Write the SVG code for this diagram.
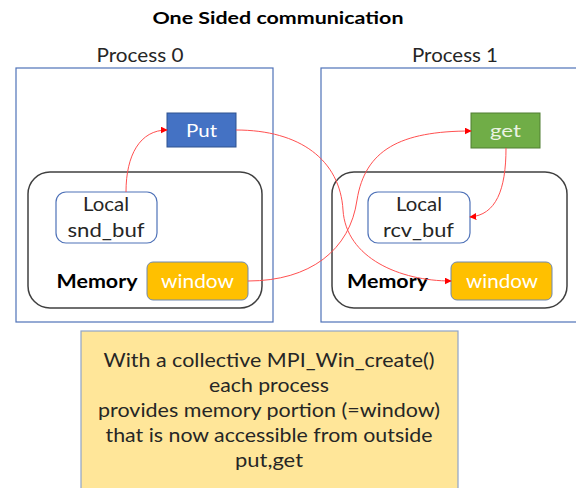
<svg xmlns="http://www.w3.org/2000/svg" width="576" height="488" viewBox="0 0 576 488">
<defs>
<marker id="ah" viewBox="0 0 10 10" refX="9" refY="5" markerWidth="7" markerHeight="7" markerUnits="userSpaceOnUse" orient="auto">
<path d="M0,0 L10,5 L0,10 z" fill="#FF0000"/>
</marker>
<style>
text{font-family:Lato,"Open Sans","Liberation Sans",sans-serif;text-anchor:middle}
.proc{fill:#fff;stroke:#4F72B8;stroke-width:1.2}
.mem{fill:#fff;stroke:#404040;stroke-width:1.5}
.loc{fill:#fff;stroke:#4F72B8;stroke-width:1.2}
.win{fill:#FFC000;stroke:#6F88B0;stroke-width:1}
.lbl{font-size:19px;fill:#262626}
.w{font-size:19px;fill:#fff}
.b{font-size:18px;font-weight:bold;fill:#000}
.conn{fill:none;stroke:#FF5050;stroke-width:1;marker-end:url(#ah)}
</style>
</defs>
<rect width="576" height="488" fill="#fff"/>
<text x="278" y="24" style="font-size:17.5px;font-weight:bold;fill:#000" textLength="251" lengthAdjust="spacingAndGlyphs">One Sided communication</text>
<g id="process0">
<text x="140" y="62" class="lbl" textLength="87" lengthAdjust="spacingAndGlyphs">Process 0</text>
<rect class="proc" x="16" y="68" width="257" height="254"/>
</g>
<g id="process1">
<text x="455" y="62" class="lbl" textLength="86" lengthAdjust="spacingAndGlyphs">Process 1</text>
<rect class="proc" x="321" y="68" width="260" height="254"/>
</g>
<g id="memory0">
<rect class="mem" x="28" y="172" width="234" height="136" rx="22"/>
<text x="97" y="288" class="b" textLength="81" lengthAdjust="spacingAndGlyphs">Memory</text>
</g>
<g id="memory1">
<rect class="mem" x="332" y="172" width="235" height="136" rx="22"/>
<text x="387.5" y="288" class="b" textLength="81" lengthAdjust="spacingAndGlyphs">Memory</text>
</g>
<g id="put">
<rect x="167" y="113" width="69" height="34" fill="#4472C4" stroke="#2F528F" stroke-width="1"/>
<text x="201.5" y="137" class="w" style="font-size:18px" textLength="31" lengthAdjust="spacingAndGlyphs">Put</text>
</g>
<g id="get">
<rect x="471" y="113" width="69" height="35" fill="#70AD47" stroke="#507E32" stroke-width="1"/>
<text x="505.5" y="137" class="w" style="font-size:18px;fill:#EAF3E2" textLength="31" lengthAdjust="spacingAndGlyphs">get</text>
</g>
<g id="snd_buf">
<rect class="loc" x="56" y="192" width="101" height="51" rx="10"/>
<text x="106" y="211" class="lbl" textLength="46" lengthAdjust="spacingAndGlyphs">Local</text>
<text x="106" y="237" class="lbl" textLength="77" lengthAdjust="spacingAndGlyphs">snd_buf</text>
</g>
<g id="rcv_buf">
<rect class="loc" x="368" y="192" width="102" height="51" rx="10"/>
<text x="419" y="211" class="lbl" textLength="46" lengthAdjust="spacingAndGlyphs">Local</text>
<text x="418.5" y="237" class="lbl" textLength="71" lengthAdjust="spacingAndGlyphs">rcv_buf</text>
</g>
<g id="window0">
<rect class="win" x="147" y="262" width="101" height="38" rx="6"/>
<text x="197.5" y="288" class="w" textLength="73" lengthAdjust="spacingAndGlyphs">window</text>
</g>
<g id="window1">
<rect class="win" x="451" y="262" width="101" height="38" rx="6"/>
<text x="502" y="288" class="w" textLength="72" lengthAdjust="spacingAndGlyphs">window</text>
</g>
<g id="note">
<rect x="81" y="331" width="377" height="170" fill="#FFE699" stroke="#8FA4C8" stroke-width="1.2"/>
<text x="269" y="367" class="lbl" textLength="331" lengthAdjust="spacingAndGlyphs">With a collective MPI_Win_create()</text>
<text x="269" y="392" class="lbl" textLength="120" lengthAdjust="spacingAndGlyphs">each process</text>
<text x="269" y="417" class="lbl" textLength="342" lengthAdjust="spacingAndGlyphs">provides memory portion (=window)</text>
<text x="269" y="442" class="lbl" textLength="327" lengthAdjust="spacingAndGlyphs">that is now accessible from outside</text>
<text x="269" y="467" class="lbl" textLength="68" lengthAdjust="spacingAndGlyphs">put,get</text>
</g>
<g id="connectors">
<path class="conn" d="M126,192 C126,155 140,130 167,130"/>
<path class="conn" d="M236,130 C300,130 340,160 343,210 C346,258 400,281 451,281"/>
<path class="conn" d="M248,281 C310,281 350,250 357,200 C365,150 400,131 471,131"/>
<path class="conn" d="M506,148 C506,190 496,215 470,217"/>
</g>
</svg>
